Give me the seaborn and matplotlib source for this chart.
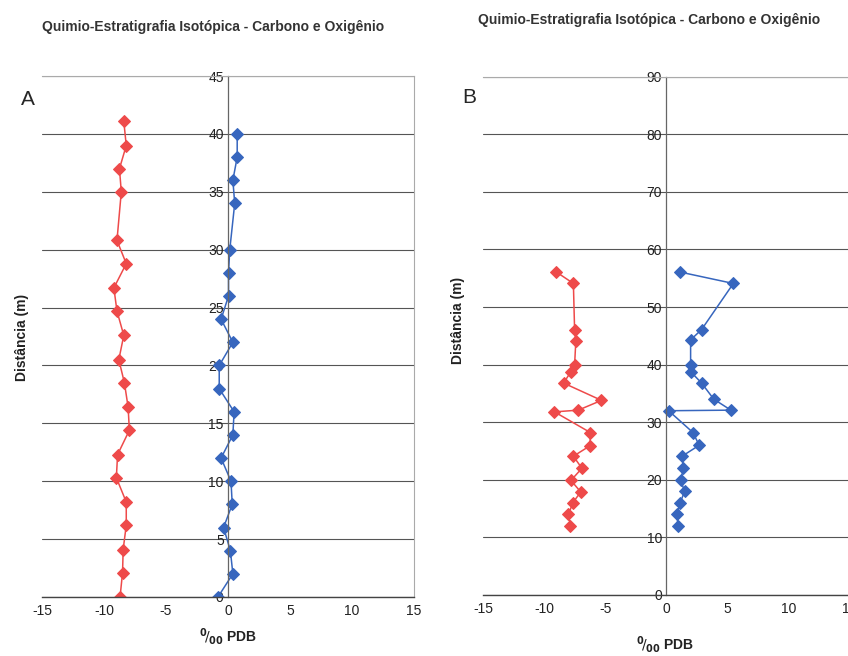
import matplotlib
matplotlib.use("Agg")
import matplotlib.pyplot as plt
import seaborn as sns

# Painel A
depth_a_oxi = [0, 2.1, 4.1, 6.2, 8.2, 10.3, 12.3, 14.4, 16.4, 18.5, 20.5,
               22.6, 24.7, 26.7, 28.8, 30.8, 35.0, 37.0, 39.0, 41.1]
oxi_a = [-8.7, -8.5, -8.45, -8.2, -8.2, -9.0, -8.9, -7.95, -8.05, -8.35, -8.8,
         -8.4, -8.95, -9.2, -8.2, -8.95, -8.6, -8.75, -8.2, -8.4]
depth_a_carb = [0, 2, 4, 6, 8, 10, 12, 14, 16, 18, 20, 22, 24, 26, 28, 30,
                34, 36, 38, 40]
carb_a = [-0.8, 0.4, 0.2, -0.35, 0.35, 0.25, -0.55, 0.4, 0.5, -0.7, -0.7,
          0.4, -0.55, 0.05, 0.05, 0.15, 0.55, 0.4, 0.75, 0.75]

# Painel B
depth_b_oxi = [56.1, 54.1, 46.0, 44.1, 40.0, 38.8, 36.8, 33.8, 32.1, 31.8,
               28.2, 25.9, 24.1, 22.0, 19.9, 17.9, 16.0, 14.0, 12.0]
oxi_b = [-9.0, -7.6, -7.5, -7.4, -7.5, -7.8, -8.4, -5.3, -7.2, -9.15,
         -6.2, -6.25, -7.6, -6.9, -7.8, -7.0, -7.65, -8.0, -7.85]
depth_b_carb = [56.1, 54.1, 46.1, 44.3, 40.0, 38.8, 36.8, 34.0, 32.1, 32.0,
                28.2, 26.0, 24.1, 22.0, 19.9, 18.0, 16.0, 14.0, 12.0]
carb_b = [1.1, 5.5, 2.9, 2.0, 2.0, 2.0, 2.9, 3.9, 5.3, 0.2,
          2.2, 2.7, 1.3, 1.4, 1.2, 1.5, 1.15, 0.9, 0.95]

x_ticks = [-15, -10, -5, 0, 5, 10, 15]
titulo = "Quimio-Estratigrafia Isotópica - Carbono e Oxigênio"
red = "#EE4A4A"
blue = "#3766BE"

sns.set_style("white")
plt.rcParams['font.family'] = ['Liberation Sans', 'DejaVu Sans']
plt.rcParams['axes.unicode_minus'] = False

fig = plt.figure(figsize=(8.48, 6.56), dpi=100)
axA = fig.add_axes([0.0495, 0.09, 0.4385, 0.794])
axB = fig.add_axes([0.5696, 0.093, 0.432, 0.79])


def painel(ax, d_oxi, oxi, d_carb, carb, ymax, ystep):
    sns.lineplot(x=oxi, y=d_oxi, ax=ax, sort=False, estimator=None, color=red,
                 marker='D', markersize=6.5, markeredgecolor=red, lw=1.1)
    sns.lineplot(x=carb, y=d_carb, ax=ax, sort=False, estimator=None, color=blue,
                 marker='D', markersize=6.5, markeredgecolor=blue, lw=1.1)
    ax.set_xlim(-15, 15)
    ax.set_ylim(0, ymax)
    ax.set_xticks(x_ticks)
    ax.set_yticks(range(0, ymax + 1, ystep))
    ax.spines['left'].set_position(('data', 0))
    ax.spines['left'].set_color('#666666')
    ax.spines['left'].set_linewidth(0.9)
    for s in ['top', 'right']:
        ax.spines[s].set_color('#aaaaaa')
        ax.spines[s].set_linewidth(0.8)
    ax.spines['bottom'].set_color('#444444')
    ax.spines['bottom'].set_linewidth(1.0)
    ax.yaxis.grid(True, color='#555555', lw=0.8)
    ax.xaxis.grid(False)
    ax.tick_params(axis='both', labelsize=10, colors='#222222', direction='inout',
                   length=4, width=0.8, pad=3)
    ax.tick_params(axis='y', pad=1)
    ax.set_xlabel('')
    ax.set_ylabel('')


painel(axA, depth_a_oxi, oxi_a, depth_a_carb, carb_a, 45, 5)
painel(axB, depth_b_oxi, oxi_b, depth_b_carb, carb_b, 90, 10)

fig.text(0.251, 0.959, titulo, ha='center', va='center', fontsize=10,
         fontweight='bold', color='#333333')
fig.text(0.765, 0.969, titulo, ha='center', va='center', fontsize=10,
         fontweight='bold', color='#333333')
fig.text(0.033, 0.848, 'A', ha='center', va='center', fontsize=15)
fig.text(0.553, 0.852, 'B', ha='center', va='center', fontsize=15)
fig.text(0.026, 0.486, 'Distância (m)', rotation=90, ha='center', va='center',
         fontsize=10, fontweight='bold', color='#222222')
fig.text(0.54, 0.512, 'Distância (m)', rotation=90, ha='center', va='center',
         fontsize=10, fontweight='bold', color='#222222')
xlab = r'$^{\mathbf{0}}\!/_{\mathbf{00}}$ PDB'
fig.text(0.269, 0.029, xlab, ha='center', va='center', fontsize=10,
         fontweight='bold', color='#222222')
fig.text(0.784, 0.017, xlab, ha='center', va='center', fontsize=10,
         fontweight='bold', color='#222222')

fig.savefig('out.png', dpi=100, facecolor='white')
